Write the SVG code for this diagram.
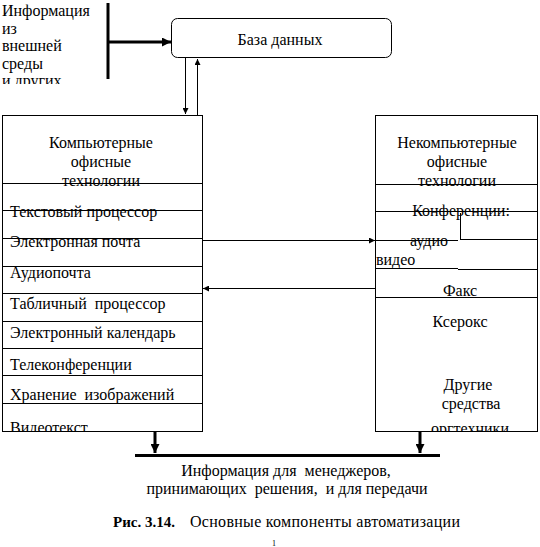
<svg xmlns="http://www.w3.org/2000/svg" width="540" height="547" viewBox="0 0 540 547">
<style>
text{font-family:"Liberation Serif","Times New Roman",serif;font-size:16px;fill:#000;white-space:pre}
.c{text-anchor:middle}
.box{fill:#fff;stroke:#000;stroke-width:1}
.ln{stroke:#000;stroke-width:1;fill:none}
.thick{stroke:#000;stroke-width:3;fill:none}
.cap{font-size:16px}
.b{font-weight:bold;font-size:15px}
</style>
<defs>
<marker id="a" viewBox="0 0 10 10" refX="10" refY="5" markerWidth="7" markerHeight="6" markerUnits="userSpaceOnUse" orient="auto"><path d="M0,0 L10,5 L0,10 z" fill="#000"/></marker>
<marker id="A" viewBox="0 0 10 10" refX="10" refY="5" markerWidth="9" markerHeight="9" markerUnits="userSpaceOnUse" orient="auto"><path d="M0,0 L10,5 L0,10 z" fill="#000"/></marker>
<clipPath id="cl"><rect x="0" y="0" width="100" height="84"/></clipPath>
<clipPath id="cb"><rect x="0" y="115" width="540" height="316.5"/></clipPath>
</defs>

<g id="external-info">
<g clip-path="url(#cl)">
<text x="2" y="16">Информация</text>
<text x="2" y="33.5">из</text>
<text x="2" y="51">внешней</text>
<text x="2" y="68.5">среды</text>
<text x="2" y="86">и других</text>
</g>
<line class="thick" x1="108" y1="3" x2="108" y2="79"/>
</g>

<g id="database">
<rect class="box" x="171.5" y="18.5" width="220" height="39" rx="6"/>
<text class="c" x="280" y="45">База данных</text>
</g>

<g id="computer-tech">
<rect class="box" x="2.5" y="115.5" width="200" height="316"/>
<g class="ln">
<line x1="2.5" y1="183.5" x2="202.5" y2="183.5"/>
<line x1="2.5" y1="210.5" x2="202.5" y2="210.5"/>
<line x1="2.5" y1="238.5" x2="202.5" y2="238.5"/>
<line x1="2.5" y1="266.5" x2="202.5" y2="266.5"/>
<line x1="2.5" y1="293.5" x2="202.5" y2="293.5"/>
<line x1="2.5" y1="321.5" x2="202.5" y2="321.5"/>
<line x1="2.5" y1="348.5" x2="202.5" y2="348.5"/>
<line x1="2.5" y1="375.5" x2="202.5" y2="375.5"/>
<line x1="2.5" y1="403.5" x2="202.5" y2="403.5"/>
</g>
<text class="c" x="101" y="148">Компьютерные</text>
<text class="c" x="101" y="167">офисные</text>
<text class="c" x="101" y="186">технологии</text>
<g clip-path="url(#cb)">
<text x="10" y="217">Текстовый процессор</text>
<text x="10" y="247">Электронная почта</text>
<text x="10" y="278">Аудиопочта</text>
<text x="10" y="309">Табличный  процессор</text>
<text x="10" y="338">Электронный календарь</text>
<text x="10" y="370">Телеконференции</text>
<text x="10" y="400">Хранение  изображений</text>
<text x="10" y="433">Видеотекст</text>
</g>
</g>

<g id="noncomputer-tech">
<rect class="box" x="375.5" y="115.5" width="162" height="316"/>
<g class="ln">
<line x1="375.5" y1="184.5" x2="537.5" y2="184.5"/>
<line x1="375.5" y1="211.5" x2="537.5" y2="211.5"/>
<line x1="460.5" y1="213" x2="460.5" y2="239.5"/>
<line x1="375.5" y1="240.5" x2="458" y2="240.5"/>
<line x1="460" y1="239.5" x2="537.5" y2="239.5"/>
<line x1="375.5" y1="268.5" x2="458" y2="268.5"/>
<line x1="458" y1="269.5" x2="537.5" y2="269.5"/>
<line x1="375.5" y1="297.5" x2="537.5" y2="297.5"/>
</g>
<text class="c" x="457" y="148">Некомпьютерные</text>
<text class="c" x="457" y="167">офисные</text>
<text class="c" x="457" y="186">технологии</text>
<text class="c" x="461" y="216">Конференции:</text>
<text x="410" y="246">аудио</text>
<text x="376" y="265">видео</text>
<text class="c" x="460" y="296">Факс</text>
<text class="c" x="460" y="327">Ксерокс</text>
<text class="c" x="468" y="390">Другие</text>
<text class="c" x="471" y="409">средства</text>
<g clip-path="url(#cb)">
<text class="c" x="470" y="434">оргтехники</text>
</g>
</g>

<g id="output-info">
<line class="thick" x1="135" y1="455.5" x2="440" y2="455.5"/>
<text class="c" x="286" y="476">Информация для  менеджеров,</text>
<text class="c" x="287" y="494">принимающих  решения,  и для передачи</text>
</g>

<g id="connectors">
<line class="thick" x1="108" y1="42" x2="171" y2="42" marker-end="url(#A)"/>
<line class="ln" x1="185.5" y1="58" x2="185.5" y2="114" marker-end="url(#a)"/>
<line class="ln" x1="197.5" y1="115" x2="197.5" y2="59" marker-end="url(#a)"/>
<line class="ln" x1="202.5" y1="240.5" x2="375" y2="240.5" marker-end="url(#a)"/>
<line class="ln" x1="375.5" y1="288.5" x2="203" y2="288.5" marker-end="url(#a)"/>
<line class="thick" x1="155" y1="432" x2="155" y2="453" marker-end="url(#A)"/>
<line class="thick" x1="420" y1="432" x2="420" y2="453" marker-end="url(#A)"/>
</g>

<g id="caption">
<text class="b" x="113" y="527">Рис. 3.14.</text>
<text class="cap" x="190" y="527" textLength="270">Основные компоненты автоматизации</text>
<text x="272" y="546" style="font-size:8px">1</text>
</g>
</svg>
